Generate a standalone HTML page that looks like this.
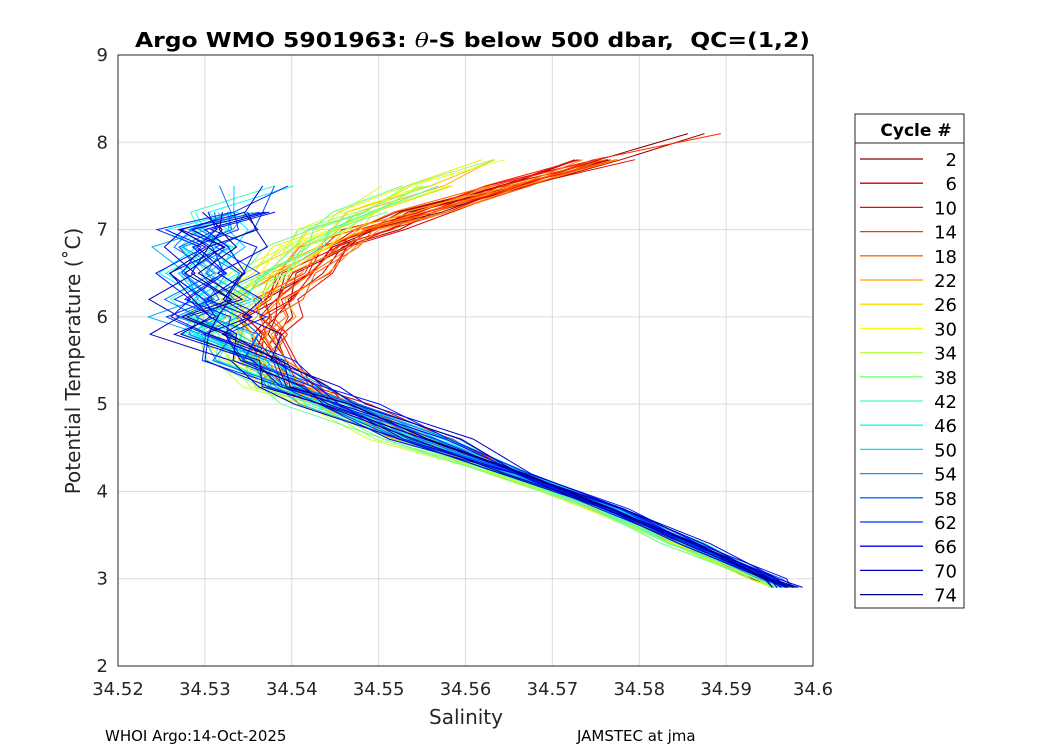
<!DOCTYPE html>
<html><head><meta charset="utf-8"><style>
body{margin:0;background:#fff;}
svg text{font-family:"DejaVu Sans","Liberation Sans",sans-serif;}
</style></head><body>
<svg id="c" width="1050" height="750" xmlns="http://www.w3.org/2000/svg">
<rect width="1050" height="750" fill="#fff"/>
<g id="grid"></g>
<g id="lines"></g>
<rect x="118" y="55" width="695" height="611" fill="none" stroke="#262626" stroke-width="1"/>
<g id="ticks"></g>
<text x="135" y="47" textLength="675" lengthAdjust="spacingAndGlyphs" font-size="20" font-weight="bold" fill="#000">Argo WMO 5901963: <tspan font-style="italic" font-weight="normal" font-family="DejaVu Serif,serif">θ</tspan>-S below 500 dbar,&#160; QC=(1,2)</text>
<text x="466" y="724" text-anchor="middle" font-size="20" fill="#262626">Salinity</text>
<text transform="translate(80,361) rotate(-90)" text-anchor="middle" font-size="20" fill="#262626">Potential Temperature (˚C)</text>
<text x="105" y="741" font-size="15" fill="#000">WHOI Argo:14-Oct-2025</text>
<text x="577" y="741" font-size="15" fill="#000">JAMSTEC at jma</text>
<g id="legend">
<rect x="855" y="114" width="109" height="494" fill="#fff" stroke="#262626"/>
<line x1="855" x2="964" y1="143" y2="143" stroke="#262626"/>
<text x="916" y="136" text-anchor="middle" font-size="17" font-weight="bold" fill="#000">Cycle #</text>
</g>
</svg>
<script>
const xTicks=[34.52,34.53,34.54,34.55,34.56,34.57,34.58,34.59,34.6];
const xTickLabels=["34.52","34.53","34.54","34.55","34.56","34.57","34.58","34.59","34.6"];
const yTicks=[2,3,4,5,6,7,8,9];
const legendCycles=[2,6,10,14,18,22,26,30,34,38,42,46,50,54,58,62,66,70,74];
const tempLevels=[8.1,7.8,7.5,7.2,7.0,6.8,6.5,6.2,6.0,5.8,5.5,5.2,5.0,4.6,4.2,3.8,3.4,3.0,2.9];
const salEarly=[34.587,34.575,34.565,34.555,34.549,34.545,34.541,34.538,34.537,34.537,34.537,34.541,34.545,34.555,34.566,34.576,34.585,34.594,34.596];
const salMid=[34.566,34.563,34.555,34.548,34.544,34.541,34.537,34.533,34.532,34.532,34.534,34.538,34.543,34.553,34.564,34.575,34.584,34.594,34.596];
const salLate=[34.545,34.542,34.537,34.533,34.530,34.530,34.530,34.530,34.530,34.531,34.535,34.540,34.545,34.555,34.566,34.577,34.586,34.595,34.597];
const topTemps=[8.1,8.0,7.9,8.1,7.95,8.0,7.85,8.05,7.9,8.0,7.8,7.95,8.1,7.9,7.85,8.0,7.7,7.9,7.8,7.75,7.9,7.7,7.8,7.9,7.6,7.7,7.8,7.5,7.6,7.7,7.8,7.5,7.6,7.7,7.4,7.6,7.5,7.8,7.3,7.5,7.4,7.6,7.5,7.3,7.4,7.2,7.5,7.3,7.4,7.2,7.5,7.3,7.1,7.4,7.2,7.3,7.5,7.2,7.4,7.6,7.3,7.2,7.7,7.4,7.1,7.3,7.2,7.5,7.3,7.0,7.4,7.2,7.3,7.1,7.2];
const cycleOffsets=[0.000,0.001,-0.001,0.002,0.000,-0.002,0.001,0.003,-0.001,0.000,0.002,-0.002,0.001,-0.001,0.000,0.002,-0.003,0.001,0.000,-0.001,0.002,-0.002,0.001,0.000,-0.001,0.003,-0.002,0.001,0.002,-0.001,0.000,-0.003,0.002,0.001,-0.002,0.000,0.001,-0.001,0.002,-0.003,0.000,0.001,-0.002,0.002,0.000,-0.001,0.001,-0.002,0.003,0.000,-0.001,0.002,-0.003,0.001,0.000,0.002,-0.002,0.001,-0.001,0.003,0.000,-0.002,0.001,0.004,-0.003,0.000,0.002,-0.001,0.005,-0.004,0.001,0.000,0.003,-0.002,0.001];
const levelJitter=[0.0012,-0.0008,0.0015,-0.0014,0.0004,0.0010,-0.0016,0.0007,-0.0003,0.0013,-0.0011,0.0005,-0.0015,0.0009,0.0002,-0.0007,0.0014,-0.0012,0.0006,-0.0004,0.0011,-0.0009,0.0003];

const X0=118,X1=813,Y0=666,Y1=55;
const xs=v=>X0+(v-34.52)/(0.08)*(X1-X0);
const ys=v=>Y0-(v-2)/7*(Y0-Y1);
const NS="http://www.w3.org/2000/svg";
const cl=v=>Math.min(1,Math.max(0,v));
function jet(t){const r=cl(1.5-Math.abs(4*t-3)),g=cl(1.5-Math.abs(4*t-2)),b=cl(1.5-Math.abs(4*t-1));return `rgb(${Math.round(r*255)},${Math.round(g*255)},${Math.round(b*255)})`;}
function cycColor(c){return jet(1-(c-1)/74);}
function mk(tag,attrs,parent){const e=document.createElementNS(NS,tag);for(const k in attrs)e.setAttribute(k,attrs[k]);parent.appendChild(e);return e;}
const grid=document.getElementById('grid'),ticks=document.getElementById('ticks');
xTicks.forEach((v,i)=>{
  const g=mk('line',{x1:xs(v),x2:xs(v),y1:Y1,y2:Y0,stroke:'#dcdcdc','stroke-width':1},grid);
  
  
  const t=mk('text',{x:xs(v),y:695,'text-anchor':'middle','font-size':18,fill:'#262626'},ticks);
  t.textContent=xTickLabels[i];
  
  
});
yTicks.forEach(v=>{
  const g=mk('line',{x1:X0,x2:X1,y1:ys(v),y2:ys(v),stroke:'#dcdcdc','stroke-width':1},grid);
  
  
  const t=mk('text',{x:108,y:ys(v)+6,'text-anchor':'end','font-size':18,fill:'#262626'},ticks);
  t.textContent=String(v);
  
  
});
const lines=document.getElementById('lines');
for(let c=1;c<=75;c++){
  const base=c<=22?salEarly:(c<=42?salMid:salLate);
  const top=topTemps[c-1];
  const pts=[];
  tempLevels.forEach((T,i)=>{
    if(T>top+0.001)return;
    const amp=(c>42&&T>5.4)?2.2:(T<4.5?0.5:1);
    const s=base[i]+cycleOffsets[c-1]*(T>4.5?1:0.3)+levelJitter[(c*3+i)%levelJitter.length]*amp;
    pts.push(xs(s).toFixed(1)+','+ys(T).toFixed(1));
  });
  const p=mk('polyline',{points:pts.join(' '),fill:'none',stroke:cycColor(c),'stroke-width':1},lines);
  
  
}
const lg=document.getElementById('legend');
legendCycles.forEach((c,i)=>{
  const y=159+i*24.2;
  const l=mk('line',{x1:860,x2:923,y1:y,y2:y,stroke:cycColor(c),'stroke-width':1.3},lg);
  
  
  const t=mk('text',{x:957,y:y+7,'text-anchor':'end','font-size':18,fill:'#000'},lg);
  t.textContent=String(c);
  
  
});
</script>
</body></html>
